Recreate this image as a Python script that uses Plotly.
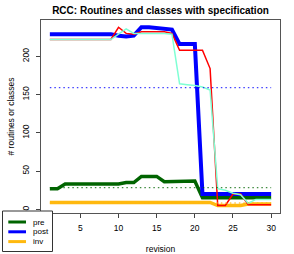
import numpy as np
import plotly.graph_objects as go

revision = list(range(1, 31))
pre = [27, 27, 33, 33, 33, 33, 33, 33, 33, 33, 35, 35, 43, 43, 43, 36, 36, 37, 37, 37,
       15, 15, 15, 15, 15, 15, 15, 15, 15, 15]
post = [229, 229, 229, 229, 229, 229, 229, 229, 229, 227, 226, 227, 238, 238, 237, 236, 235, 216, 216, 216,
        20, 20, 20, 20, 20, 20, 20, 20, 20, 20]
inv = [9, 9, 9, 9, 9, 9, 9, 9, 9, 9, 9, 9, 9, 9, 9, 9, 9, 9, 9, 9,
       9, 9, 5, 5, 5, 5, 7, 7, 7, 7]
routines = [222, 222, 222, 222, 222, 222, 222, 222, 222, 238, 230, 229, 232, 232, 232, 232, 230, 208, 208, 208,
            208, 184, 5, 5, 20, 20, 6, 6, 6, 6]
classes = [222, 222, 222, 222, 222, 222, 222, 222, 222, 229, 236, 230, 230, 230, 230, 230, 229, 164, 163, 162,
           160, 156, 27, 25, 21, 19, 8, 13, 13, 13]
yticks = [0, 50, 100, 150, 200]
xticks = [5, 10, 15, 20, 25, 30]

GREEN = "#006400"
BLUE = "#0000FF"
ORANGE = "#FFB90F"
RED = "#FF0000"
AQUA = "#7FFFD4"

fig = go.Figure()

def line(y, color, width, dash="solid", opacity=1.0):
    fig.add_trace(go.Scatter(x=revision, y=y, mode="lines", showlegend=False, opacity=opacity,
                             line=dict(color=color, width=width, dash=dash),
                             hoverinfo="skip"))

line(pre, GREEN, 3.5)
line(post, BLUE, 4)
line(inv, ORANGE, 3.5)
line(routines, RED, 1.5)
line(classes, AQUA, 1.5)
for series, color in ((pre, GREEN), (post, BLUE), (inv, ORANGE)):
    m = float(np.mean(series))
    line([m] * len(revision), color, 1.4, "1.5px,3px", 0.75)

# manual legend (R style)
L, T = 41, 20
W, H = 294 - 14 - 41, 254 - 41 - 20
def px(x):
    return (x - L) / W
def py(y):
    return (254 - 41 - y) / H

names = ["pre", "post", "inv"]
colors = [GREEN, BLUE, ORANGE]
shapes = [dict(type="rect", xref="paper", yref="paper", x0=px(2.5), x1=px(52.5), y0=py(251.5), y1=py(211),
               line=dict(color="#333", width=1), fillcolor="white", layer="above")]
annotations = []
for i, (name, color) in enumerate(zip(names, colors)):
    yy = 222 + i * 9.8
    shapes.append(dict(type="line", xref="paper", yref="paper", x0=px(8.3), x1=px(26), y0=py(yy), y1=py(yy),
                       line=dict(color=color, width=3), layer="above"))
    annotations.append(dict(text=name, xref="paper", yref="paper", x=px(32), y=py(yy), xanchor="left",
                            yanchor="middle", showarrow=False, borderpad=0,
                            font=dict(size=8, color="black")))

yrange = [-4.8, 247.5]
fig.update_layout(
    width=294, height=254,
    margin=dict(l=41, r=14, t=20, b=41, autoexpand=False),
    plot_bgcolor="white", paper_bgcolor="white",
    font=dict(family="Liberation Sans, Arial, sans-serif", size=8.5, color="black"),
    title=dict(text="<b>RCC: Routines and classes with specification</b>", x=px(160.5), xref="paper",
               xanchor="center", y=1 - 10 / 254, yanchor="middle", font=dict(size=10)),
    shapes=shapes, annotations=annotations,
    xaxis=dict(range=[-0.16, 31.16], tickvals=xticks, ticks="outside", ticklen=4, automargin=False,
               tickcolor="#444", showline=True, linecolor="#555", mirror=True, showgrid=False,
               zeroline=False, ticklabelstandoff=3,
               title=dict(text="revision", standoff=16, font=dict(size=8.5))),
    yaxis=dict(range=yrange, tickvals=yticks, ticks="outside", ticklen=4, automargin=False,
               tickcolor="#444", showline=True, linecolor="#555", mirror=True, showgrid=False,
               zeroline=False, tickangle=-90, ticklabelstandoff=4,
               title=dict(text="# routines or classes", standoff=4, font=dict(size=8.5))),
)

fig.write_html("out.html", config={"displayModeBar": False, "staticPlot": True},
               post_script="document.body.style.margin='0';")
